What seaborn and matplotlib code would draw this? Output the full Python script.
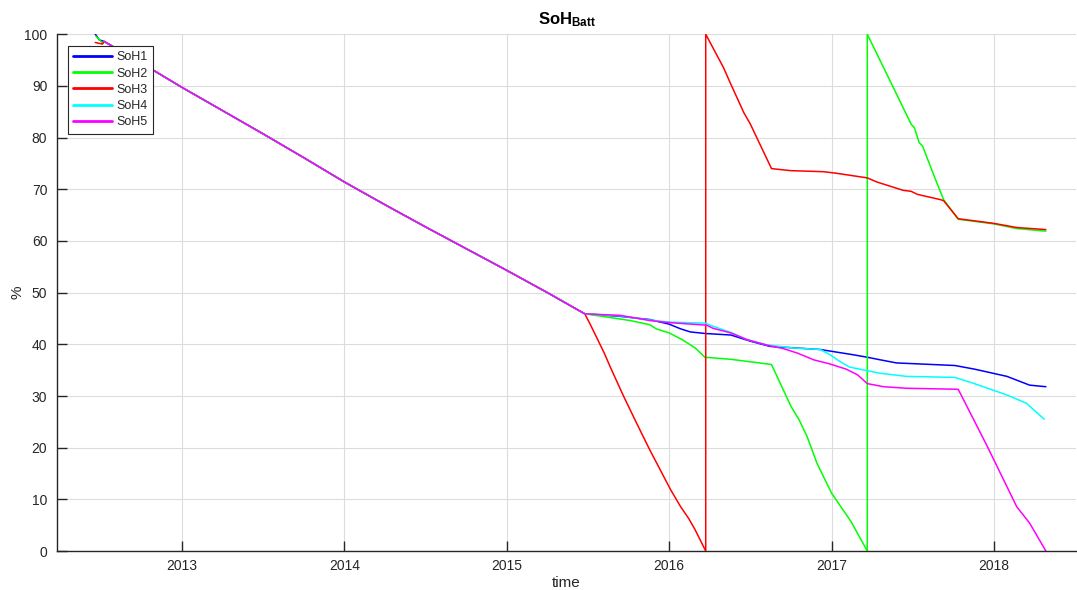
import numpy as np
import pandas as pd
import matplotlib
matplotlib.use('Agg')
import matplotlib.pyplot as plt
import seaborn as sns

# data, x in decimal years, y in percent

# shared part of the curve (all five batteries on top of each other)
common_t = [2012.52, 2012.75, 2013.0, 2013.25, 2013.5, 2013.75, 2014.0, 2014.25,
            2014.5, 2014.75, 2015.0, 2015.25, 2015.48]
common_v = [98.6, 94.4, 89.7, 85.2, 80.7, 76.1, 71.4, 67.0,
            62.7, 58.5, 54.3, 50.0, 45.9]

# little start-up bits before the common curve
head1_t = [2012.455, 2012.49]
head1_v = [100.5, 98.9]
head2_t = [2012.47, 2012.51]
head2_v = [99.6, 98.3]
head3_t = [2012.465, 2012.51]
head3_v = [98.4, 98.1]

soh1_t = [2015.70, 2015.88, 2016.0, 2016.07, 2016.13, 2016.22, 2016.38, 2016.50,
          2016.62, 2016.93, 2017.13, 2017.22, 2017.30, 2017.40, 2017.76, 2017.88,
          2018.08, 2018.22, 2018.32]
soh1_v = [45.4, 44.8, 43.9, 43.0, 42.4, 42.1, 41.8, 40.6,
          39.6, 39.0, 38.0, 37.5, 37.0, 36.4, 35.9, 35.2,
          33.8, 32.1, 31.8]

soh2_t = [2015.59, 2015.76, 2015.88, 2015.92, 2016.0, 2016.08, 2016.16, 2016.22,
          2016.38, 2016.63, 2016.75, 2016.80, 2016.85, 2016.91, 2017.0, 2017.12,
          2017.22, 2017.22, 2017.36, 2017.49, 2017.51, 2017.54, 2017.56, 2017.64,
          2017.69, 2017.78, 2018.0, 2018.14, 2018.32]
soh2_v = [45.4, 44.6, 43.8, 43.0, 42.2, 40.9, 39.3, 37.5,
          37.1, 36.1, 28.0, 25.4, 22.1, 17.0, 11.2, 5.7,
          0.0, 100.0, 91.0, 82.6, 81.9, 79.0, 78.4, 71.9,
          68.0, 64.2, 63.3, 62.4, 61.9]

soh3_t = [2015.51, 2015.60, 2015.64, 2015.72, 2015.80, 2015.88, 2015.95, 2016.01,
          2016.07, 2016.12, 2016.16, 2016.225, 2016.225, 2016.335, 2016.38, 2016.46,
          2016.50, 2016.63, 2016.75, 2016.95, 2017.03, 2017.22, 2017.28, 2017.38,
          2017.44, 2017.49, 2017.53, 2017.67, 2017.69, 2017.78, 2018.0, 2018.14,
          2018.32]
soh3_v = [44.1, 38.3, 35.4, 29.9, 24.7, 19.6, 15.4, 11.8,
          8.6, 6.3, 4.1, 0.0, 100.0, 93.5, 90.3, 84.8,
          82.6, 74.0, 73.6, 73.4, 73.1, 72.2, 71.4, 70.4,
          69.8, 69.6, 69.0, 68.0, 67.8, 64.3, 63.4, 62.6,
          62.2]

soh4_t = [2015.70, 2015.88, 2016.0, 2016.22, 2016.27, 2016.38, 2016.48, 2016.60,
          2016.76, 2016.93, 2016.99, 2017.05, 2017.11, 2017.22, 2017.30, 2017.46,
          2017.76, 2017.87, 2018.08, 2018.20, 2018.31]
soh4_v = [45.5, 44.7, 44.3, 44.1, 43.5, 42.3, 40.9, 39.9,
          39.3, 39.0, 38.0, 36.7, 35.6, 34.9, 34.4, 33.8,
          33.6, 32.5, 30.2, 28.6, 25.5]

soh5_t = [2015.70, 2015.88, 2016.0, 2016.23, 2016.27, 2016.38, 2016.48, 2016.62,
          2016.70, 2016.79, 2016.89, 2016.99, 2017.09, 2017.16, 2017.22, 2017.32,
          2017.46, 2017.78, 2017.96, 2018.14, 2018.22, 2018.32]
soh5_v = [45.6, 44.6, 44.2, 43.7, 43.1, 42.2, 40.9, 39.7,
          39.2, 38.3, 37.0, 36.2, 35.2, 34.1, 32.4, 31.8,
          31.5, 31.3, 20.2, 8.6, 5.4, 0.0]

names = ['SoH1', 'SoH2', 'SoH3', 'SoH4', 'SoH5']
colors = ['#0000ff', '#00ff00', '#ff0000', '#00ffff', '#ff00ff']
heads = [(head1_t, head1_v), (head2_t, head2_v), (head3_t, head3_v), ([], []), ([], [])]
tails = [(soh1_t, soh1_v), (soh2_t, soh2_v), (soh3_t, soh3_v), (soh4_t, soh4_v), (soh5_t, soh5_v)]

rows = []
for name, (ht, hv), (tt, tv) in zip(names, heads, tails):
    t = list(ht) + common_t + list(tt)
    v = list(hv) + common_v + list(tv)
    for a, b in zip(t, v):
        rows.append({'series': name, 'time': a, 'soh': b})
df = pd.DataFrame(rows)

sns.set_style('white')
plt.rcParams['font.family'] = ['Liberation Sans', 'DejaVu Sans']
plt.rcParams['mathtext.fontset'] = 'custom'
plt.rcParams['mathtext.rm'] = 'Liberation Sans'
plt.rcParams['mathtext.bf'] = 'Liberation Sans:bold'

fig = plt.figure(figsize=(10.77, 5.90), dpi=100)
ax = fig.add_axes([0.053, 0.066, 0.946, 0.876])

sns.lineplot(data=df, x='time', y='soh', hue='series', palette=dict(zip(names, colors)),
             sort=False, estimator=None, linewidth=1.1, ax=ax, legend=False)

ax.set_xlim(2012.23, 2018.505)
ax.set_ylim(0, 100)
ax.set_xticks([2013, 2014, 2015, 2016, 2017, 2018])
ax.set_xticklabels(['2013', '2014', '2015', '2016', '2017', '2018'])
ax.set_yticks(np.arange(0, 101, 10))
ax.grid(True, color='#dcdcdc', linewidth=0.8)
ax.set_axisbelow(True)

for s in ['top', 'right']:
    ax.spines[s].set_visible(False)
for s in ['left', 'bottom']:
    ax.spines[s].set_color('#262626')
    ax.spines[s].set_linewidth(1.0)
ax.tick_params(bottom=True, left=True, direction='in', length=7.5, width=1.0,
               color='#262626', labelcolor='#262626', labelsize=10)
ax.tick_params(axis='y', pad=7)
ax.tick_params(axis='x', pad=5.5)

ax.set_xlabel('time', fontsize=11, color='#262626', labelpad=2.5)
ax.set_ylabel('%', fontsize=11, color='#262626', labelpad=0)
ax.set_title(r'$\mathbf{SoH_{Batt}}$', fontsize=12, color='#000000', pad=7)

handles = [plt.Line2D([], [], color=c, linewidth=2.0) for c in colors]
leg = ax.legend(handles, names, loc='upper left', bbox_to_anchor=(0.0108, 0.977),
                borderaxespad=0, fontsize=9, frameon=True, fancybox=False, framealpha=1,
                edgecolor='#262626', handlelength=3.1, handletextpad=0.32,
                labelspacing=0.34, borderpad=0.42)
leg.get_frame().set_linewidth(0.8)

fig.savefig('out.png', dpi=100)
